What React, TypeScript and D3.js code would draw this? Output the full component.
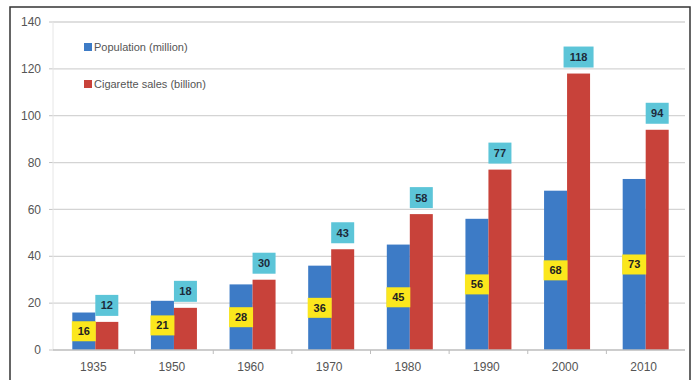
import React from "react";
import * as d3 from "d3";

const years = ["1935", "1950", "1960", "1970", "1980", "1990", "2000", "2010"];
const population = [16, 21, 28, 36, 45, 56, 68, 73];
const cigaretteSales = [12, 18, 30, 43, 58, 77, 118, 94];
const yTicks = [0, 20, 40, 60, 80, 100, 120, 140];
const seriesNames = ["Population (million)", "Cigarette sales (billion)"];

const W = 696;
const H = 380;
const BLUE = "#3d7bc6";
const RED = "#c8423a";
const YELLOW = "#fbe71d";
const CYAN = "#5cc5d8";
const FONT = "'Liberation Sans', Arial, sans-serif";

export default function App() {
  const x = d3.scaleBand<string>().domain(years).range([56, 685]).paddingInner(0).paddingOuter(0);
  const y = d3.scaleLinear().domain([0, 140]).range([350, 22]);
  const barW = 23;
  const y0 = y(0);

  return (
    <svg
      width={W}
      height={H}
      style={{ position: "absolute", left: 0, top: 0, background: "#fff" }}
      fontFamily={FONT}
    >
      <rect x={10} y={7} width={680} height={378} fill="#fff" stroke="#333" strokeWidth={1.5} />

      {/* horizontal gridlines */}
      {yTicks.map((t) => (
        <g key={t}>
          {t > 0 && (
            <line x1={53} x2={685} y1={y(t)} y2={y(t)} stroke="#d4d4d4" strokeWidth={1.3} />
          )}
          <line x1={49} x2={53} y1={y(t)} y2={y(t)} stroke="#c4c4c4" />
          <text
            x={41}
            y={y(t)}
            dy="0.35em"
            textAnchor="end"
            fontSize={12}
            fill="#555"
          >
            {t}
          </text>
        </g>
      ))}
      <line x1={53} x2={53} y1={y(140)} y2={y0} stroke="#e6e6e6" />

      {/* bars with value labels */}
      {years.map((yr, i) => {
        const cx = (x(yr) as number) + x.bandwidth() / 2;
        const p = population[i];
        const c = cigaretteSales[i];
        const popMid = (y(p) + y0) / 2;
        const cyanW = String(c).length * 7 + 9;
        return (
          <g key={yr}>
            <rect x={cx - barW} y={y(p)} width={barW} height={y0 - y(p)} fill={BLUE} />
            <rect x={cx} y={y(c)} width={barW} height={y0 - y(c)} fill={RED} />
            <rect x={cx - barW - 0.5} y={popMid - 10} width={barW + 1} height={20} fill={YELLOW} />
            <text
              x={cx - barW / 2}
              y={popMid}
              dy="0.36em"
              textAnchor="middle"
              fontSize={11}
              fontWeight="bold"
              fill="#222"
            >
              {p}
            </text>
            <rect
              x={cx + barW / 2 - cyanW / 2}
              y={y(c) - 27}
              width={cyanW}
              height={21}
              fill={CYAN}
            />
            <text
              x={cx + barW / 2}
              y={y(c) - 16.5}
              dy="0.36em"
              textAnchor="middle"
              fontSize={11}
              fontWeight="bold"
              fill="#1d2a3a"
            >
              {c}
            </text>
            <text
              x={cx - 2}
              y={367}
              dy="0.35em"
              textAnchor="middle"
              fontSize={12}
              fill="#555"
            >
              {yr}
            </text>
          </g>
        );
      })}

      {/* x axis */}
      <line x1={53} x2={685} y1={y0} y2={y0} stroke="#bdbdbd" strokeWidth={1.5} />
      {years.slice(1).map((yr) => (
        <line
          key={yr}
          x1={x(yr) as number}
          x2={x(yr) as number}
          y1={y0}
          y2={y0 + 4}
          stroke="#bdbdbd"
        />
      ))}

      {/* legend */}
      {seriesNames.map((name, i) => (
        <g key={name} transform={`translate(84, ${47 + i * 37})`}>
          <rect x={0} y={-4} width={8} height={8} fill={i === 0 ? BLUE : RED} />
          <text x={10} y={0} dy="0.35em" fontSize={11} fill="#555">
            {name}
          </text>
        </g>
      ))}
    </svg>
  );
}
